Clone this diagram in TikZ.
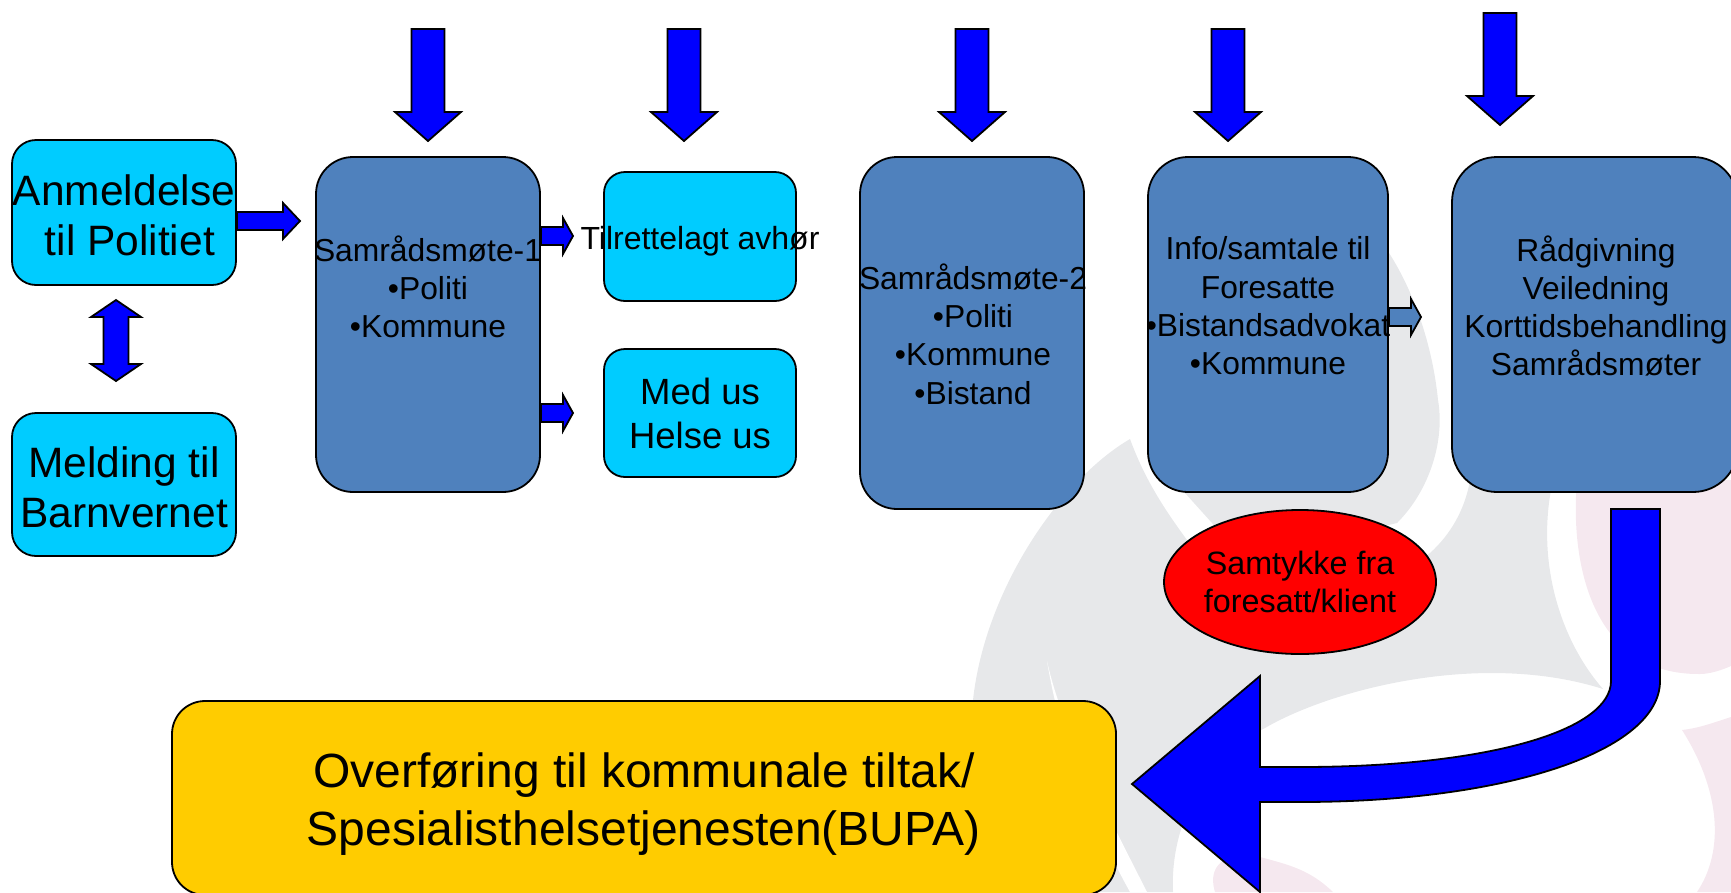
\documentclass[tikz,border=0pt]{standalone}
\usepackage{fontspec}
\setmainfont{Liberation Sans}
\usetikzlibrary{calc,shapes.geometric}

\definecolor{steelfill}{HTML}{4F81BD}
\definecolor{cyanfill}{HTML}{00CCFF}
\definecolor{goldfill}{HTML}{FFCC00}
\definecolor{arrowfill}{HTML}{0000FF}
\definecolor{markgrey}{HTML}{E7E8EA}
\definecolor{markpink}{HTML}{F5E8EF}

\newcommand{\shaftw}{9pt}
\newcommand{\headw}{18pt}
\newcommand{\headl}{17pt}

\tikzset{
  box/.style={draw=black, line width=1.8pt, rectangle, inner sep=0pt, align=center},
  cyanbox/.style={box, fill=cyanfill},
  steelbox/.style={box, fill=steelfill},
  boxtext/.style={inner sep=0pt, align=center, font=\fontsize{31.8}{38.3}\selectfont},
  bigtext/.style={font=\fontsize{42.5}{50}\selectfont},
  midtext/.style={font=\fontsize{36.5}{44}\selectfont},
  blockarrow/.style={draw=black, line width=1.8pt, fill=arrowfill, line join=miter,
    to path={
      ($(\tikztostart)!\shaftw!90:(\tikztotarget)$)
      -- ($($(\tikztotarget)!\headl!(\tikztostart)$)!\shaftw!-90:(\tikztostart)$)
      -- ($($(\tikztotarget)!\headl!(\tikztostart)$)!\headw!-90:(\tikztostart)$)
      -- (\tikztotarget)
      -- ($($(\tikztotarget)!\headl!(\tikztostart)$)!\headw!90:(\tikztostart)$)
      -- ($($(\tikztotarget)!\headl!(\tikztostart)$)!\shaftw!90:(\tikztostart)$)
      -- ($(\tikztostart)!\shaftw!-90:(\tikztotarget)$)
      -- cycle}},
}

\begin{document}
\begin{tikzpicture}[x=1pt, y=-1pt]
  \useasboundingbox (0,0) rectangle (1731,892);

  % Watermark
  \fill[markgrey] (1130,439) .. controls (1060,480) and (985,590) .. (973,700)
    -- (950,892) -- (1173,892) .. controls (1170,830) and (1200,760) .. (1265,728)
    .. controls (1330,690) and (1480,650) .. (1603,689)
    .. controls (1560,640) and (1535,560) .. (1553,480) -- (1470,480)
    .. controls (1465,510) and (1450,535) .. (1430,553)
    -- (1300,640) -- (1187,540) .. controls (1165,510) and (1145,480) .. (1130,439) -- cycle;
  \fill[markgrey] (1185,493) -- (1212,523) -- (1240,560) -- (1397,523)
    .. controls (1430,490) and (1445,440) .. (1438,400)
    .. controls (1432,340) and (1410,280) .. (1380,240) -- (1170,300) -- (1170,470) -- cycle;
  \fill[white] (1047,661) .. controls (1060,720) and (1090,780) .. (1147,892) -- (1130,892)
    .. controls (1090,820) and (1060,740) .. (1047,661) -- cycle;
  \fill[markpink] (1577,480) .. controls (1570,560) and (1590,675) .. (1700,674)
    .. controls (1710,674) and (1722,670) .. (1731,666) -- (1731,480) -- cycle;
  \fill[markpink] (1682,730) .. controls (1700,728) and (1715,722) .. (1731,717) -- (1731,892)
    -- (1697,892) .. controls (1725,850) and (1720,790) .. (1682,730) -- cycle;
  \fill[markpink] (1215,892) .. controls (1205,860) and (1235,850) .. (1260,857)
    .. controls (1290,865) and (1310,870) .. (1333,892) -- cycle;

  % Boxes
  \node[cyanbox, rounded corners=24pt, minimum width=224pt, minimum height=145pt] (anmeldelse) at (124,212.5) {};
  \node[cyanbox, rounded corners=24pt, minimum width=224pt, minimum height=143pt] (melding) at (124,484.5) {};
  \node[steelbox, rounded corners=37pt, minimum width=224pt, minimum height=335pt] (samraad1) at (428,324.5) {};
  \node[cyanbox, rounded corners=21pt, minimum width=192pt, minimum height=129pt] (avhor) at (700,236.5) {};
  \node[cyanbox, rounded corners=21pt, minimum width=192pt, minimum height=128pt, midtext] (medus) at (700,413) {Med us\\Helse us};
  \node[steelbox, rounded corners=37pt, minimum width=224pt, minimum height=352pt] (samraad2) at (972,333) {};
  \node[steelbox, rounded corners=40pt, minimum width=240pt, minimum height=335pt] (info) at (1268,324.5) {};
  \node[steelbox, rounded corners=45pt, minimum width=286pt, minimum height=335pt] (radgivning) at (1595,324.5) {};
  \node[draw=black, line width=1.8pt, fill=red, ellipse, inner sep=0pt, minimum width=272pt, minimum height=144pt, align=center, font=\fontsize{32.3}{38}\selectfont] (samtykke) at (1300,582) {Samtykke fra\ \\foresatt/klient};
  \node[box, fill=goldfill, rounded corners=33pt, minimum width=944pt, minimum height=194pt] (overforing) at (644,798) {};

  % Box texts wider or higher than their box
  \node[boxtext, bigtext] (anmeldelsetext) at (124,215) {Anmeldelse\\\ til Politiet};
  \node[boxtext, bigtext] (meldingtext) at (124,487) {Melding til\ \\Barnvernet};
  \node[boxtext] (samraad1text) at (428,287) {Samrådsmøte-1\\•Politi\\•Kommune};
  \node[boxtext, font=\fontsize{32}{38}\selectfont] (avhortext) at (700,241) {Tilrettelagt avhør};
  \node[boxtext] (samraad2text) at (973,334) {Samrådsmøte-2\\•Politi\\•Kommune\\•Bistand};
  \node[boxtext] (infotext) at (1268,306) {Info/samtale til\\Foresatte\\•Bistandsadvokat\\•Kommune};
  \node[boxtext] (radgivningtext) at (1596,306) {Rådgivning\\Veiledning\\Korttidsbehandling\\Samrådsmøter};
  \node[boxtext, font=\fontsize{48}{58}\selectfont] (overforingtext) at (644,804) {Overføring til kommunale tiltak/\\Spesialisthelsetjenesten(BUPA)};

  % Arrow ends
  \coordinate (anmeldelsetip) at (300,221);
  \coordinate (avhortip) at (573,236);
  \coordinate (medustip) at (573,413);
  \coordinate (radgivningtip) at (1421,317);
  \coordinate (doubletop) at (116,300);
  \coordinate (doublebottom) at (116,381);

  \path[blockarrow] (anmeldelse.east |- anmeldelsetip) to (anmeldelsetip);
  \renewcommand{\headl}{10pt}
  \path[blockarrow] (samraad1.east |- avhortip) to (avhortip);
  \path[blockarrow] (samraad1.east |- medustip) to (medustip);
  \path[blockarrow, fill=steelfill] (info.east |- radgivningtip) to (radgivningtip);

  % Double arrow between the two first boxes
  \draw[draw=black, line width=1.8pt, fill=arrowfill] (doubletop) -- ++(25,17) -- ++(-12.5,0) -- ++(0,47) -- ++(12.5,0)
    -- (doublebottom) -- ++(-25,-17) -- ++(12.5,0) -- ++(0,-47) -- ++(-12.5,0) -- cycle;

  % Arrows from above
  \renewcommand{\shaftw}{16.5pt}
  \renewcommand{\headw}{33pt}
  \renewcommand{\headl}{29pt}
  \foreach \topx/\topy in {428/29, 684/29, 972/29, 1228/29, 1500/13} {
    \coordinate (topstart) at (\topx,\topy);
    \coordinate (toptip) at (\topx,\topy+112);
    \path[blockarrow] (topstart) to (toptip);
  }

  % Big bent arrow to the last box
  \coordinate (bendtip) at (1132,784);
  \draw[draw=black, line width=1.8pt, fill=arrowfill] (1611,509) -- (1611,681)
    .. controls (1611,730) and (1490,767) .. (1300,767) -- (1260,767) -- (1260,676)
    -- (bendtip) -- (1260,892) -- (1260,802) -- (1300,802)
    .. controls (1510,802) and (1660,750) .. (1660,681) -- (1660,509) -- cycle;
\end{tikzpicture}
\end{document}
